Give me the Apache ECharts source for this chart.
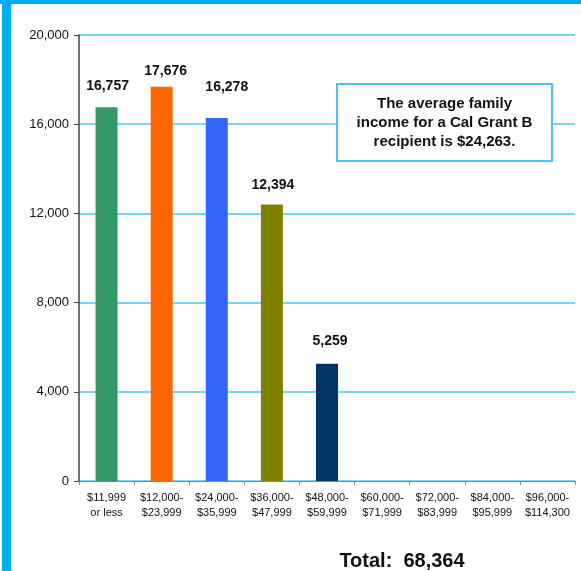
<!DOCTYPE html>
<html>
<head>
<meta charset="utf-8">
<script src="https://cdn.jsdelivr.net/npm/echarts@6/dist/echarts.min.js"></script>
<style>
html,body{margin:0;padding:0;background:#fff;}
#chart{width:581px;height:571px;}
</style>
</head>
<body>
<div id="chart"></div>
<script>
// ---- data ----
const categories = [
  "$11,999\nor less", "$12,000-\n$23,999", "$24,000-\n$35,999", "$36,000-\n$47,999",
  "$48,000-\n$59,999", "$60,000-\n$71,999", "$72,000-\n$83,999", "$84,000-\n$95,999",
  "$96,000-\n$114,300"
];
const recipients = [16757, 17676, 16278, 12394, 5259, 0, 0, 0, 0];
const yTicks = { min: 0, max: 20000, interval: 4000 };
const noteLines = ["The average family", "income for a Cal Grant B", "recipient is $24,263."];

// ---- styles (not data) ----
const barColors = ["#339966", "#FF6600", "#3366FF", "#808000", "#003366", "#999999", "#999999", "#999999", "#999999"];
const labelOffsets = [[1, -14], [4, -9], [10, -24], [1, -12], [3, -16], [0, 0], [0, 0], [0, 0], [0, 0]];
const FONT = "Liberation Sans, Arial, sans-serif";

const fmt = v => v.toLocaleString("en-US");
const total = recipients.reduce((a, b) => a + b, 0);

const chart = echarts.init(document.getElementById("chart"), null, { renderer: "canvas" });
chart.setOption({
  animation: false,
  backgroundColor: "#ffffff",
  textStyle: { fontFamily: FONT },
  grid: { left: 79, right: 6, top: 35, bottom: 90, containLabel: false },
  xAxis: {
    type: "category",
    data: categories,
    boundaryGap: true,
    axisLine: { show: true, lineStyle: { color: "#8a8a8a", width: 1 } },
    axisTick: { show: true, alignWithLabel: false, length: 4, lineStyle: { color: "#8a8a8a" } },
    axisLabel: { interval: 0, fontSize: 11, lineHeight: 15, color: "#111111", margin: 9, fontFamily: FONT }
  },
  yAxis: {
    type: "value",
    min: yTicks.min, max: yTicks.max, interval: yTicks.interval,
    axisLine: { show: true, lineStyle: { color: "#444444", width: 1.5 } },
    axisTick: { show: true, inside: false, length: 5, lineStyle: { color: "#444444" } },
    axisLabel: { fontSize: 13, color: "#111111", margin: 10, fontFamily: FONT, formatter: v => fmt(v) },
    splitLine: { show: true, lineStyle: { color: "#4cc4f0", width: 1.5 } }
  },
  series: [{
    type: "bar",
    barWidth: 22,
    z: 3,
    data: recipients.map((v, i) => ({
      value: v,
      itemStyle: { color: barColors[i] },
      label: {
        show: v > 0,
        position: "top",
        distance: 0,
        offset: labelOffsets[i],
        formatter: p => fmt(p.value),
        fontSize: 14, fontWeight: "bold", color: "#111111", fontFamily: FONT
      }
    }))
  }],
  graphic: [
    { type: "rect", z: 0, silent: true, shape: { x: 0, y: 0, width: 581, height: 4 }, style: { fill: "#00AEEF" } },
    { type: "rect", z: 0, silent: true, shape: { x: 2, y: 0, width: 9, height: 571 }, style: { fill: "#00AEEF" } },
    { type: "rect", z: 100, silent: true, shape: { x: 337, y: 84, width: 215, height: 77 },
      style: { fill: "#ffffff", stroke: "#4cc4f0", lineWidth: 2 } },
    { type: "text", z: 101, silent: true, style: { x: 444.5, y: 123, text: noteLines.join("\n"), align: "center", verticalAlign: "middle",
      fontSize: 15, fontWeight: "bold", lineHeight: 19, fill: "#111111", fontFamily: FONT } },
    { type: "text", z: 100, silent: true, style: { x: 402, y: 561, text: "Total:  " + fmt(total), align: "center", verticalAlign: "middle",
      fontSize: 20, fontWeight: "bold", fill: "#111111", fontFamily: FONT } }
  ]
});
</script>
</body>
</html>
